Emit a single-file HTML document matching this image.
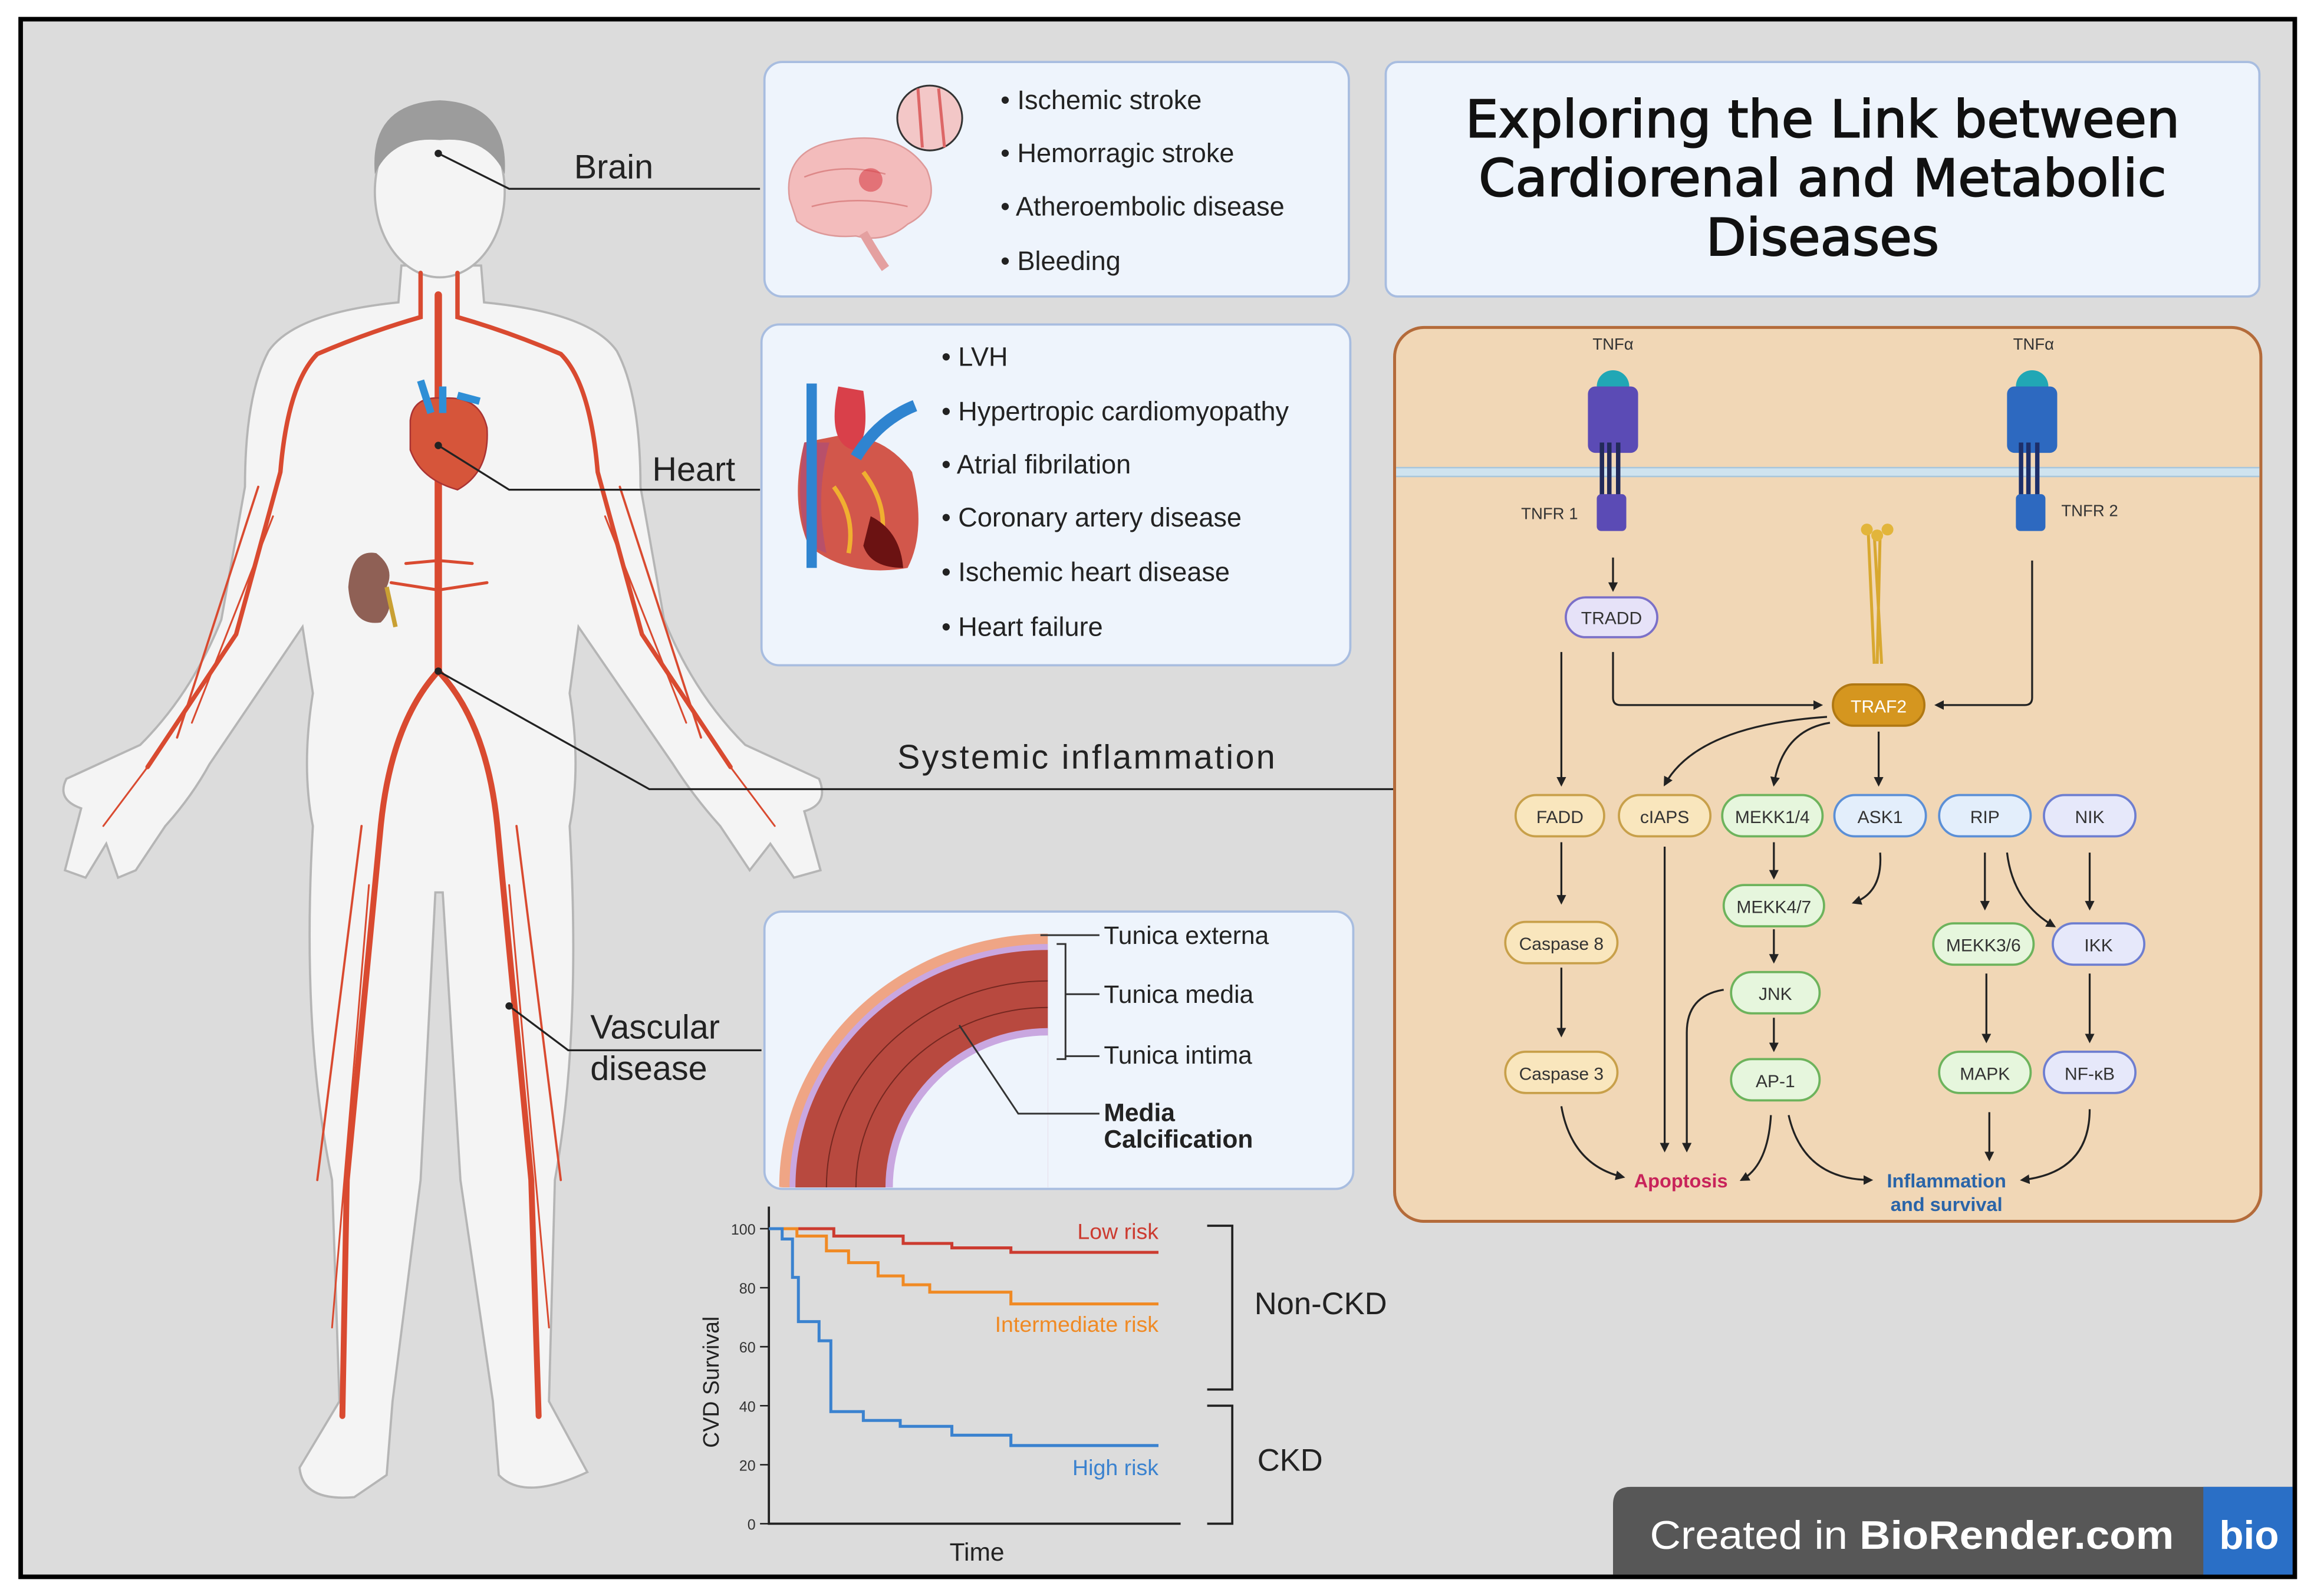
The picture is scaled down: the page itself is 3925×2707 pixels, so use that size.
<!DOCTYPE html>
<html><head><meta charset="utf-8">
<style>
html,body{margin:0;padding:0;background:#fff;}
svg{display:block;}
text{font-family:"Liberation Sans",sans-serif;}
</style></head>
<body>
<svg width="3925" height="2707" viewBox="0 0 1568 1082" preserveAspectRatio="none" xmlns="http://www.w3.org/2000/svg">
<defs>
<marker id="ah" viewBox="0 0 10 10" refX="8" refY="5" markerWidth="5" markerHeight="5" orient="auto"><path d="M0,0 L10,5 L0,10 z" fill="#222"/></marker>
<clipPath id="vclip"><rect x="519" y="619" width="397" height="186" rx="12"/></clipPath>
</defs>
<rect x="0" y="0" width="1568" height="1082" fill="#fff"/>
<rect x="14" y="13" width="1541" height="1056" fill="#dcdcdc" stroke="#000" stroke-width="3"/>

<!-- BODY -->
<path d="M 272 180 L 270 205 Q 200 212 182 238 Q 166 268 166 330 L 150 420 Q 130 470 95 505 L 45 528 Q 38 542 55 548 L 44 590 L 58 595 L 72 572 L 80 595 L 92 590 L 112 560 Q 130 540 142 518 L 205 425 L 212 470 Q 204 520 212 560 Q 204 700 225 800 L 230 950 L 203 995 Q 205 1018 240 1015 L 262 1000 L 266 950 L 285 800 L 295 605 L 300 605 L 312 800 L 334 950 L 338 1000 Q 355 1018 398 998 L 372 950 L 376 800 Q 394 700 386 560 Q 394 520 386 470 L 392 425 L 456 518 Q 470 540 488 560 L 508 590 L 522 572 L 538 595 L 556 590 L 545 550 Q 562 545 555 528 L 505 505 Q 470 470 450 420 L 434 330 Q 434 268 418 238 Q 400 212 328 205 L 326 180 Z" fill="#f4f4f4" stroke="#b5b5b5" stroke-width="1.5"/>
<ellipse cx="298" cy="130" rx="44" ry="58" fill="#f4f4f4" stroke="#b5b5b5" stroke-width="1.5"/>
<path d="M 254 118 Q 250 70 298 68 Q 345 70 342 118 Q 330 92 298 95 Q 266 92 254 118 Z" fill="#9c9c9c"/>
<!-- arteries -->
<g stroke="#d94a30" fill="none" stroke-linecap="round">
<path d="M297 200 L297 455" stroke-width="5"/>
<path d="M297 455 Q 265 490 258 560 L 235 800 L 232 960" stroke-width="4"/>
<path d="M297 455 Q 330 490 337 560 L 360 800 L 365 960" stroke-width="4"/>
<path d="M285 185 L 285 215 Q 250 225 215 240 Q 195 260 190 320 L 160 430 L 100 520" stroke-width="3"/>
<path d="M310 185 L 310 215 Q 345 225 380 240 Q 400 260 405 320 L 435 430 L 495 520" stroke-width="3"/>
<path d="M175 330 L 120 500 M 420 330 L 475 500 M 245 560 L 215 800 M 350 560 L 380 800" stroke-width="1.5"/>
<path d="M185 350 L 130 490 M 410 350 L 465 490 M 250 600 L 225 900 M 345 600 L 372 900 M 100 520 L 70 560 M 495 520 L 525 560" stroke-width="1.2"/>
<path d="M297 400 L 265 395 M 297 400 L 330 395 M 297 380 L 275 382 M 297 380 L 320 382" stroke-width="2"/>
</g>
<!-- heart icon -->
<path d="M278 285 Q 280 268 300 270 Q 325 268 330 290 Q 332 320 310 332 Q 285 325 278 305 Z" fill="#d6553a" stroke="#a33" stroke-width="1"/>
<path d="M285 258 L 292 280 M 300 262 L 300 280 M 310 268 L 325 272" stroke="#2f8fd6" stroke-width="5"/>
<!-- kidney -->
<path d="M255 375 Q 238 372 236 398 Q 238 425 258 422 Q 268 412 262 398 Q 268 385 255 375 Z" fill="#8f6055"/>
<path d="M262 398 L 268 425" stroke="#c9a033" stroke-width="3"/>
<!-- leader lines -->
<g stroke="#222" stroke-width="1.3" fill="none">
<path d="M297 104 L 345 128 L 515 128"/>
<path d="M297 302 L 345 332 L 515 332"/>
<path d="M297 455 L 440 535 L 945 535"/>
<path d="M345 682 L 385 712 L 516 712"/>
</g>
<circle cx="297" cy="104" r="2.5" fill="#222"/><circle cx="297" cy="302" r="2.5" fill="#222"/><circle cx="297" cy="455" r="2.5" fill="#222"/><circle cx="345" cy="682" r="2.5" fill="#222"/>
<text x="389" y="121" font-size="23" fill="#222">Brain</text>
<text x="442" y="326" font-size="23" fill="#222">Heart</text>
<text x="608" y="521" font-size="23" fill="#222" textLength="256">Systemic inflammation</text>
<text x="400" y="704" font-size="23" fill="#222">Vascular</text>
<text x="400" y="732" font-size="23" fill="#222">disease</text>

<!-- Brain box -->
<rect x="518" y="42" width="396" height="159" rx="12" fill="#eef4fc" stroke="#a8bde0" stroke-width="1.5"/>
<path d="M535 135 Q 530 100 570 95 Q 610 88 628 115 Q 638 140 615 152 Q 600 165 580 160 Q 555 162 540 150 Z" fill="#f3bcbc" stroke="#d99" stroke-width="1"/>
<path d="M545 120 Q 570 110 600 118 M 550 140 Q 580 132 615 140" stroke="#d88" stroke-width="1" fill="none"/>
<circle cx="590" cy="122" r="8" fill="#d9414a" opacity="0.6"/>
<path d="M585 158 Q 595 175 600 182" stroke="#e4a0a0" stroke-width="6"/>
<circle cx="630" cy="80" r="22" fill="#f3c7c7" stroke="#333" stroke-width="1.2"/>
<path d="M622 60 L 625 100 M 636 60 L 640 100" stroke="#d66" stroke-width="2"/>
<g font-size="18" fill="#222">
<text x="678" y="74">•   Ischemic stroke</text>
<text x="678" y="110">•   Hemorragic stroke</text>
<text x="678" y="146">•   Atheroembolic disease</text>
<text x="678" y="183">•   Bleeding</text>
</g>

<!-- Title box -->
<rect x="939" y="42" width="592" height="159" rx="8" fill="#eef4fc" stroke="#a8bde0" stroke-width="1.5"/>
<g font-size="35" fill="#111" stroke="#111" stroke-width="0.8" text-anchor="middle" style="font-family:'DejaVu Sans',sans-serif">
<text x="1235" y="93" textLength="484" lengthAdjust="spacingAndGlyphs" style="font-family:'DejaVu Sans',sans-serif">Exploring the Link between</text>
<text x="1235" y="133" textLength="466" lengthAdjust="spacingAndGlyphs" style="font-family:'DejaVu Sans',sans-serif">Cardiorenal and Metabolic</text>
<text x="1235" y="173" textLength="158" lengthAdjust="spacingAndGlyphs" style="font-family:'DejaVu Sans',sans-serif">Diseases</text>
</g>

<!-- Heart box -->
<rect x="516" y="220" width="399" height="231" rx="12" fill="#eef4fc" stroke="#a8bde0" stroke-width="1.5"/>
<path d="M545 300 Q 535 340 548 370 Q 575 392 615 385 Q 628 360 618 320 Q 600 295 570 295 Z" fill="#d2574b"/>
<path d="M545 300 Q 538 340 548 370 L 560 375 Q 552 335 562 300 Z" fill="#b8506a"/>
<path d="M565 330 Q 580 350 575 375 M 585 320 Q 600 340 598 360" stroke="#f0b030" stroke-width="3" fill="none"/>
<path d="M590 350 Q 610 360 612 385 Q 590 385 585 370 Z" fill="#6b1212"/>
<path d="M568 262 Q 560 300 578 305 Q 590 300 585 265" fill="#d9404a"/>
<path d="M550 260 L 550 385" stroke="#2f84d0" stroke-width="7"/>
<path d="M580 310 Q 595 285 620 275" stroke="#2f84d0" stroke-width="8" fill="none"/>
<g font-size="18" fill="#222">
<text x="638" y="248">•   LVH</text>
<text x="638" y="285">•   Hypertropic cardiomyopathy</text>
<text x="638" y="321">•   Atrial fibrilation</text>
<text x="638" y="357">•   Coronary artery disease</text>
<text x="638" y="394">•   Ischemic heart disease</text>
<text x="638" y="431">•   Heart failure</text>
</g>

<!-- Vascular box -->
<rect x="518" y="618" width="399" height="188" rx="12" fill="#eef4fc" stroke="#a8bde0" stroke-width="1.5"/>
<g clip-path="url(#vclip)">
<path d="M 528 805 A 182 172 0 0 1 710 633 L 710 805 Z" fill="#efa585"/>
<path d="M 535 805 A 175 165 0 0 1 710 640 L 710 805 Z" fill="#c9a7e0"/>
<path d="M 539 805 A 171 161 0 0 1 710 644 L 710 805 Z" fill="#b8493f"/>
<path d="M 600 805 A 110 108 0 0 1 710 697 L 710 805 Z" fill="#c9a7e0"/>
<path d="M 605 805 A 105 103 0 0 1 710 702 L 710 805 Z" fill="#eef4fc"/>
<g stroke="#5a1a14" stroke-width="0.8" fill="none" opacity="0.7">
<path d="M 560 805 A 150 140 0 0 1 710 665"/>
<path d="M 580 805 A 130 122 0 0 1 710 683"/>
</g>
</g>
<g stroke="#333" stroke-width="1.2" fill="none">
<path d="M705 634 L 745 634"/>
<path d="M716 640 L 722 640 L 722 718 L 716 718"/>
<path d="M722 674 L 745 674 M 722 716 L 745 716"/>
<path d="M650 695 L 690 755 L 745 755"/>
</g>
<g font-size="17" fill="#222">
<text x="748" y="640">Tunica externa</text>
<text x="748" y="680">Tunica media</text>
<text x="748" y="721">Tunica intima</text>
<text x="748" y="760" font-weight="bold">Media</text>
<text x="748" y="778" font-weight="bold">Calcification</text>
</g>

<!-- Chart -->
<g stroke="#222" stroke-width="1.5" fill="none">
<path d="M521 818 L 521 1033 L 800 1033"/>
<path d="M515 833 L521 833 M515 873 L521 873 M515 913 L521 913 M515 953 L521 953 M515 993 L521 993 M515 1033 L521 1033" stroke-width="1"/>
<path d="M818 831 L 835 831 L 835 942 L 818 942"/>
<path d="M818 953 L 835 953 L 835 1033 L 818 1033"/>
</g>
<g font-size="10" fill="#333" text-anchor="end">
<text x="512" y="837">100</text><text x="512" y="877">80</text><text x="512" y="917">60</text><text x="512" y="957">40</text><text x="512" y="997">20</text><text x="512" y="1037">0</text>
</g>
<text transform="translate(487 937) rotate(-90)" font-size="15" fill="#222" text-anchor="middle">CVD Survival</text>
<text x="662" y="1058" font-size="17" fill="#222" text-anchor="middle">Time</text>
<g fill="none" stroke-width="2">
<path d="M521 833 L 565 833 L 565 838 L 612 838 L 612 843 L 645 843 L 645 846 L 685 846 L 685 849 L 785 849" stroke="#cc3b30"/>
<path d="M521 833 L 540 833 L 540 838 L 560 838 L 560 848 L 575 848 L 575 856 L 595 856 L 595 865 L 612 865 L 612 871 L 630 871 L 630 876 L 685 876 L 685 884 L 785 884" stroke="#f08a24"/>
<path d="M521 833 L 530 833 L 530 840 L 537 840 L 537 866 L 541 866 L 541 896 L 555 896 L 555 909 L 563 909 L 563 957 L 585 957 L 585 963 L 610 963 L 610 967 L 645 967 L 645 973 L 685 973 L 685 980 L 785 980" stroke="#3a82cf"/>
</g>
<g font-size="15" text-anchor="end">
<text x="785" y="840" fill="#cc3b30">Low risk</text>
<text x="785" y="903" fill="#f08a24">Intermediate risk</text>
<text x="785" y="1000" fill="#3a82cf">High risk</text>
</g>
<text x="850" y="891" font-size="21" fill="#222">Non-CKD</text>
<text x="852" y="997" font-size="21" fill="#222">CKD</text>

<!-- Pathway box -->
<rect x="945" y="222" width="587" height="606" rx="20" fill="#f1d7b6" stroke="#b46b3a" stroke-width="2"/>
<rect x="946" y="317" width="585" height="6" fill="#cfe3ef"/>
<path d="M946 317 L1531 317 M946 323 L1531 323" stroke="#a8c6dc" stroke-width="1"/>
<g>
<circle cx="1093" cy="262" r="11" fill="#21a7b5"/>
<rect x="1076" y="262" width="34" height="45" rx="5" fill="#5b4bb5"/>
<rect x="1089" y="300" width="3" height="40" fill="#222a5a"/><rect x="1095" y="300" width="3" height="40" fill="#222a5a"/><rect x="1084" y="300" width="3" height="40" fill="#222a5a"/>
<rect x="1082" y="335" width="20" height="25" rx="3" fill="#5b4bb5"/>
<circle cx="1377" cy="262" r="11" fill="#21a7b5"/>
<rect x="1360" y="262" width="34" height="45" rx="5" fill="#2d69c0"/>
<rect x="1373" y="300" width="3" height="40" fill="#1d2f6a"/><rect x="1379" y="300" width="3" height="40" fill="#1d2f6a"/><rect x="1368" y="300" width="3" height="40" fill="#1d2f6a"/>
<rect x="1366" y="335" width="20" height="25" rx="3" fill="#2d69c0"/>
<path d="M1266 362 L 1270 450 M 1274 362 L 1272 450 M 1270 362 L 1275 450" stroke="#d8a830" stroke-width="2"/>
<circle cx="1265" cy="359" r="4" fill="#e2b53b"/><circle cx="1279" cy="359" r="4" fill="#e2b53b"/><circle cx="1272" cy="363" r="4" fill="#e2b53b"/>
</g>
<g font-size="11" fill="#333" text-anchor="middle">
<text x="1093" y="237">TNFα</text><text x="1378" y="237">TNFα</text>
<text x="1050" y="352">TNFR 1</text><text x="1416" y="350">TNFR 2</text>
</g>
<g stroke="#222" stroke-width="1.3" fill="none" marker-end="url(#ah)">
<path d="M1093 378 L1093 400"/>
<path d="M1058 442 L1058 532"/>
<path d="M1093 442 L1093 473 Q1093 478 1098 478 L1234 478"/>
<path d="M1377 380 L1377 473 Q1377 478 1372 478 L1312 478"/>
<path d="M1238 486 Q1150 492 1128 532"/>
<path d="M1240 490 Q1208 495 1202 532"/>
<path d="M1273 496 L1273 532"/>
<path d="M1058 571 L1058 612"/>
<path d="M1058 656 L1058 702"/>
<path d="M1202 571 L1202 595"/>
<path d="M1274 578 Q1276 605 1256 612"/>
<path d="M1202 630 L1202 652"/>
<path d="M1202 690 L1202 712"/>
<path d="M1345 578 L1345 616"/>
<path d="M1360 578 Q1364 612 1392 628"/>
<path d="M1416 578 L1416 616"/>
<path d="M1346 660 L1346 706"/>
<path d="M1416 660 L1416 706"/>
<path d="M1128 574 L1128 780"/>
<path d="M1168 671 Q1143 675 1143 700 L1143 780"/>
<path d="M1058 750 Q1065 790 1100 798"/>
<path d="M1200 756 Q1198 790 1180 800"/>
<path d="M1212 756 Q1222 800 1268 800"/>
<path d="M1348 754 L1348 786"/>
<path d="M1416 752 Q1416 795 1370 800"/>
</g>
<g font-size="12" text-anchor="middle" fill="#333">
<rect x="1061" y="405" width="62" height="27" rx="13.5" fill="#e6e2f8" stroke="#7b70c8" stroke-width="1.5"/><text x="1092" y="423">TRADD</text>
<rect x="1242" y="464" width="62" height="28" rx="14" fill="#d5961f" stroke="#b07813" stroke-width="1.5"/><text x="1273" y="483" fill="#fff">TRAF2</text>
<g fill="#f9e6bd" stroke="#c8a04a" stroke-width="1.5">
<rect x="1027" y="539" width="60" height="28" rx="14"/><rect x="1097" y="539" width="62" height="28" rx="14"/>
<rect x="1020" y="625" width="76" height="28" rx="14"/><rect x="1020" y="713" width="76" height="28" rx="14"/>
</g>
<g fill="#e6f6dd" stroke="#6db35c" stroke-width="1.5">
<rect x="1167" y="539" width="68" height="28" rx="14"/><rect x="1168" y="600" width="68" height="28" rx="14"/>
<rect x="1173" y="659" width="60" height="28" rx="14"/><rect x="1173" y="718" width="60" height="28" rx="14"/>
<rect x="1310" y="626" width="68" height="28" rx="14"/><rect x="1314" y="713" width="62" height="28" rx="14"/>
</g>
<g fill="#e3eefb" stroke="#5b8fd6" stroke-width="1.5">
<rect x="1243" y="539" width="62" height="28" rx="14"/><rect x="1314" y="539" width="62" height="28" rx="14"/>
</g>
<g fill="#e6e8fa" stroke="#6e7ed0" stroke-width="1.5">
<rect x="1385" y="539" width="62" height="28" rx="14"/><rect x="1391" y="626" width="62" height="28" rx="14"/>
<rect x="1385" y="713" width="62" height="28" rx="14"/>
</g>
<text x="1057" y="558">FADD</text><text x="1128" y="558">cIAPS</text><text x="1201" y="558">MEKK1/4</text>
<text x="1274" y="558">ASK1</text><text x="1345" y="558">RIP</text><text x="1416" y="558">NIK</text>
<text x="1202" y="619">MEKK4/7</text><text x="1058" y="644">Caspase 8</text>
<text x="1344" y="645">MEKK3/6</text><text x="1422" y="645">IKK</text>
<text x="1203" y="678">JNK</text><text x="1058" y="732">Caspase 3</text>
<text x="1203" y="737">AP-1</text><text x="1345" y="732">MAPK</text><text x="1416" y="732">NF-κB</text>
</g>
<text x="1139" y="805" font-size="13" font-weight="bold" fill="#c8235a" text-anchor="middle">Apoptosis</text>
<text x="1319" y="805" font-size="13" font-weight="bold" fill="#2a64a8" text-anchor="middle">Inflammation</text>
<text x="1319" y="821" font-size="13" font-weight="bold" fill="#2a64a8" text-anchor="middle">and survival</text>

<path d="M1093 1070 L1093 1020 Q1093 1008 1105 1008 L1556 1008 L1556 1070 Z" fill="#575757"/>
<rect x="1493" y="1008" width="62" height="61" fill="#2a6fc6"/>
<text x="1118" y="1050" font-size="27" fill="#fff" textLength="355" lengthAdjust="spacingAndGlyphs">Created in <tspan font-weight="bold">BioRender.com</tspan></text>
<text x="1524" y="1050" font-size="27" font-weight="bold" fill="#fff" text-anchor="middle">bio</text>
<rect x="14" y="13" width="1541" height="1056" fill="none" stroke="#000" stroke-width="3"/>
</svg>
</body></html>
